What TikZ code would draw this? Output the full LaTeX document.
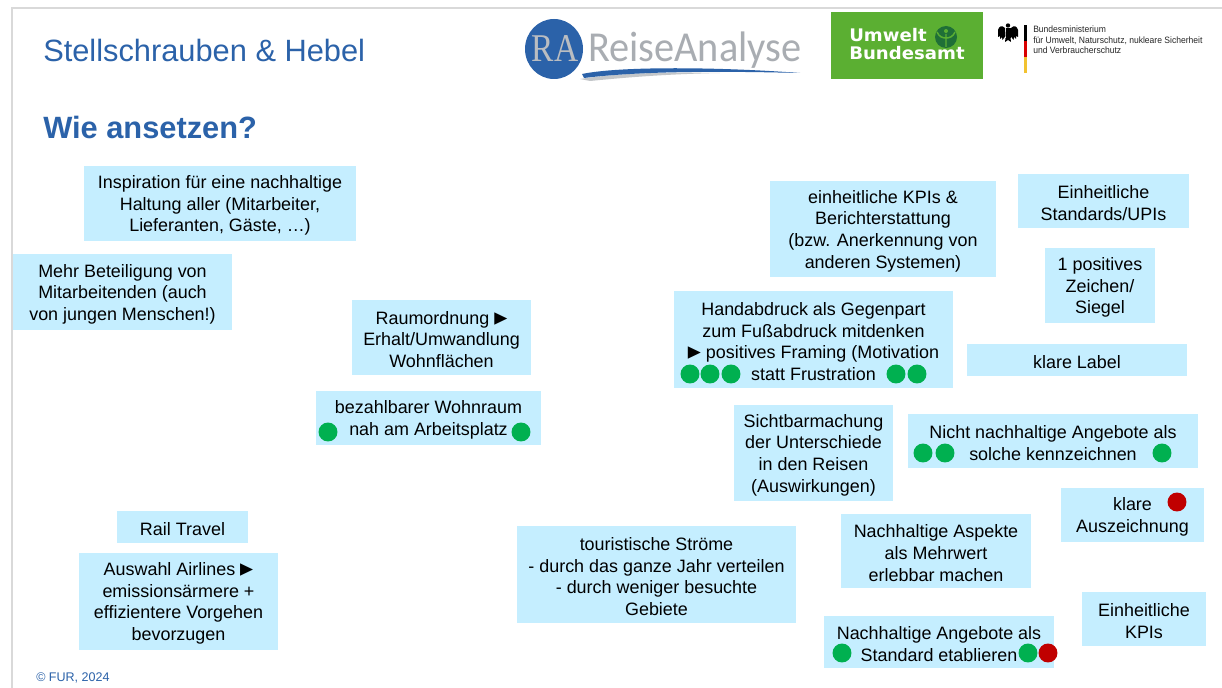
\documentclass[tikz,border=0pt]{standalone}
\usepackage{fontspec}
\setmainfont{Liberation Sans}
\newfontfamily\raserif{Liberation Serif}
\newfontfamily\ralogo{Carlito}
\newfontfamily\ubalogo{DejaVu Sans}
\definecolor{boxblue}{HTML}{C5EEFF}
\definecolor{titleblue}{HTML}{2B62A9}
\definecolor{dotgreen}{HTML}{00B050}
\definecolor{dotred}{HTML}{C00000}
\definecolor{framegray}{HTML}{D9D9D9}
\definecolor{ragray}{HTML}{A9ADB2}
\definecolor{umwelt}{HTML}{5BAF32}
\definecolor{umweltdark}{HTML}{1F6F37}
\definecolor{ragold}{HTML}{F2C230}
\newcommand{\tri}{\raisebox{-0.6pt}{\scalebox{0.95}[1.4]{\ubalogo\fontsize{13.4}{16}\selectfont ►}}}
\tikzset{
  x=0.75pt,y=-0.75pt,
  boxfill/.style={fill=boxblue,inner sep=0pt},
  infotext/.style={inner sep=0pt,align=center,text=black,
    font=\fontsize{13.45}{16.2}\selectfont},
  gdot/.style={circle,fill=dotgreen,minimum size=14.2pt,inner sep=0pt},
  rdot/.style={circle,fill=dotred,minimum size=14.2pt,inner sep=0pt},
  title/.style={anchor=base west,inner sep=0pt,text=titleblue},
}
\newcommand{\rbox}[6]{%
  \node[boxfill,minimum width=#4*0.75pt-#2*0.75pt,minimum height=#5*0.75pt-#3*0.75pt]
    (#1) at ({(#2+#4)/2},{(#3+#5)/2}) {};
  \node[infotext] (#1t) at ([yshift=-1.5pt]#1.center) {#6};}
\begin{document}
\begin{tikzpicture}
\useasboundingbox (0,0) rectangle (1222,688);
\fill[white] (0,0) rectangle (1222,688);
\draw[framegray,line width=1.5pt] (12,688) -- (12,8) -- (1222,8);

\node[title,font=\fontsize{23.1}{26}\selectfont] (t1) at (43,62) {Stellschrauben \& Hebel};
\node[title,font=\bfseries\fontsize{23.1}{28}\selectfont] (t2) at (43,139) {Wie ansetzen?};
\node[title,font=\fontsize{9.4}{11}\selectfont] (foot) at (36,681) {© FUR, 2024};

% ReiseAnalyse logo
\fill[titleblue] (554,49) ellipse [x radius=29,y radius=30];
\node[anchor=base,inner sep=0pt,text=ragray!80,xscale=0.85,font=\raserif\fontsize{29.5}{30}\selectfont] (ra) at (555,62) {RA};
\node[anchor=base west,inner sep=0pt,text=ragray,xscale=0.945,font=\ralogo\fontsize{32}{34}\selectfont] (ratext) at (588,62) {ReiseAnalyse};
\fill[ragray!70] (580,79) .. controls (620,73) and (660,72) .. (720,73) .. controls (670,74) and (630,77) .. (590,81) -- cycle;
\fill[titleblue] (582,74) .. controls (620,66) and (720,67) .. (800,73) .. controls (720,71) and (640,71) .. (584,78) -- cycle;

% Umweltbundesamt logo
\fill[umwelt] (831,12) rectangle (983,79);
\node[anchor=base west,inner sep=0pt,text=white,xscale=1.045,font=\ubalogo\bfseries\fontsize{13}{16}\selectfont] (ub1) at (849,42) {Umwelt};
\node[anchor=base west,inner sep=0pt,text=white,xscale=1.045,font=\ubalogo\bfseries\fontsize{13}{16}\selectfont] (ub2) at (849,60) {Bundesamt};
\fill[umweltdark] (946,37) circle [radius=11];
\fill[umwelt] (946,31) circle [radius=2];
\draw[umwelt,line width=1.1pt] (946,34) -- (946,47) (937,32) .. controls (939,37) and (943,38) .. (946,38) .. controls (949,38) and (953,37) .. (955,32);

% Ministry logo
\fill[black] (1008,25.5) circle [radius=2.2];
\fill[black] (1005.5,28) rectangle (1010.5,38);
\fill[black] (1005,28) .. controls (1002,25) and (999,26) .. (998,30) -- (998,37) -- (1000,36) -- (1000,39) -- (1002,37) -- (1002.5,40) -- (1004,38) -- (1005.5,36) -- cycle;
\fill[black] (1011,28) .. controls (1014,25) and (1017,26) .. (1018,30) -- (1018,37) -- (1016,36) -- (1016,39) -- (1014,37) -- (1013.5,40) -- (1012,38) -- (1010.5,36) -- cycle;
\fill[black] (1005.5,38) -- (1005,42) -- (1008,40) -- (1011,42) -- (1010.5,38) -- cycle;
\fill[black] (1024,25) rectangle (1027,41);
\fill[red!85!black] (1024,41) rectangle (1027,57);
\fill[ragold] (1024,57) rectangle (1027,73);
\node[anchor=north west,inner sep=0pt,align=left,text=black!85,xscale=0.93,
  font=\fontsize{6.9}{7.6}\selectfont] (bm) at (1033,26)
  {Bundesministerium\\für Umwelt, Naturschutz, nukleare Sicherheit\\und Verbraucherschutz};

% Text boxes
\rbox{b1}{84}{166}{356}{241}{Inspiration für eine nachhaltige\\Haltung aller (Mitarbeiter,\\Lieferanten, Gäste, …)}
\rbox{b2}{13}{254}{232}{330}{Mehr Beteiligung von\\Mitarbeitenden (auch\\von jungen Menschen!)}
\rbox{b3}{352}{300}{531}{375}{Raumordnung \tri\\Erhalt/Umwandlung\\Wohnflächen}
\rbox{b4}{316}{391}{541}{445}{bezahlbarer Wohnraum\\nah am Arbeitsplatz}
\rbox{b5}{117}{511}{248}{543}{Rail Travel}
\rbox{b6}{79}{553}{278}{650}{Auswahl Airlines \tri\\emissionsärmere +\\effizientere Vorgehen\\bevorzugen}
\rbox{b7}{770}{181}{996}{277}{einheitliche KPIs \&\\Berichterstattung\\(bzw. Anerkennung von\\anderen Systemen)}
\rbox{b8}{1018}{174}{1189}{228}{Einheitliche\\Standards/UPIs}
\rbox{b9}{1045}{248}{1155}{323}{1 positives\\Zeichen/\\Siegel}
\rbox{b10}{967}{344}{1187}{376}{klare Label}
\rbox{b11}{674}{291}{953}{388}{Handabdruck als Gegenpart\\zum Fußabdruck mitdenken\\\tri\ positives Framing (Motivation\\statt Frustration}
\rbox{b12}{734}{405}{893}{501}{Sichtbarmachung\\der Unterschiede\\in den Reisen\\(Auswirkungen)}
\rbox{b13}{908}{414}{1198}{468}{Nicht nachhaltige Angebote als\\solche kennzeichnen}
\rbox{b14}{1061}{488}{1204}{542}{klare\\Auszeichnung}
\rbox{b15}{841}{514}{1031}{588}{Nachhaltige Aspekte\\als Mehrwert\\erlebbar machen}
\rbox{b16}{517}{526}{796}{623}{touristische Ströme\\- durch das ganze Jahr verteilen\\- durch weniger besuchte\hspace*{12pt}\\Gebiete}
\rbox{b17}{824}{616}{1054}{668}{Nachhaltige Angebote als\\Standard etablieren}
\rbox{b18}{1082}{592}{1206}{646}{Einheitliche\\KPIs}

% Rating dots
\node[gdot] (d1) at (690,374) {};
\node[gdot] (d2) at (710,374) {};
\node[gdot] (d3) at (731,374) {};
\node[gdot] (d4) at (896,374) {};
\node[gdot] (d5) at (917,374) {};
\node[gdot] (d6) at (328,432) {};
\node[gdot] (d7) at (521,432) {};
\node[gdot] (d8) at (923,453) {};
\node[gdot] (d9) at (945,453) {};
\node[gdot] (d10) at (1162,453) {};
\node[rdot] (d11) at (1177,502) {};
\node[gdot] (d12) at (842,653) {};
\node[gdot] (d13) at (1028,653) {};
\node[rdot] (d14) at (1048,653) {};
\end{tikzpicture}
\end{document}
